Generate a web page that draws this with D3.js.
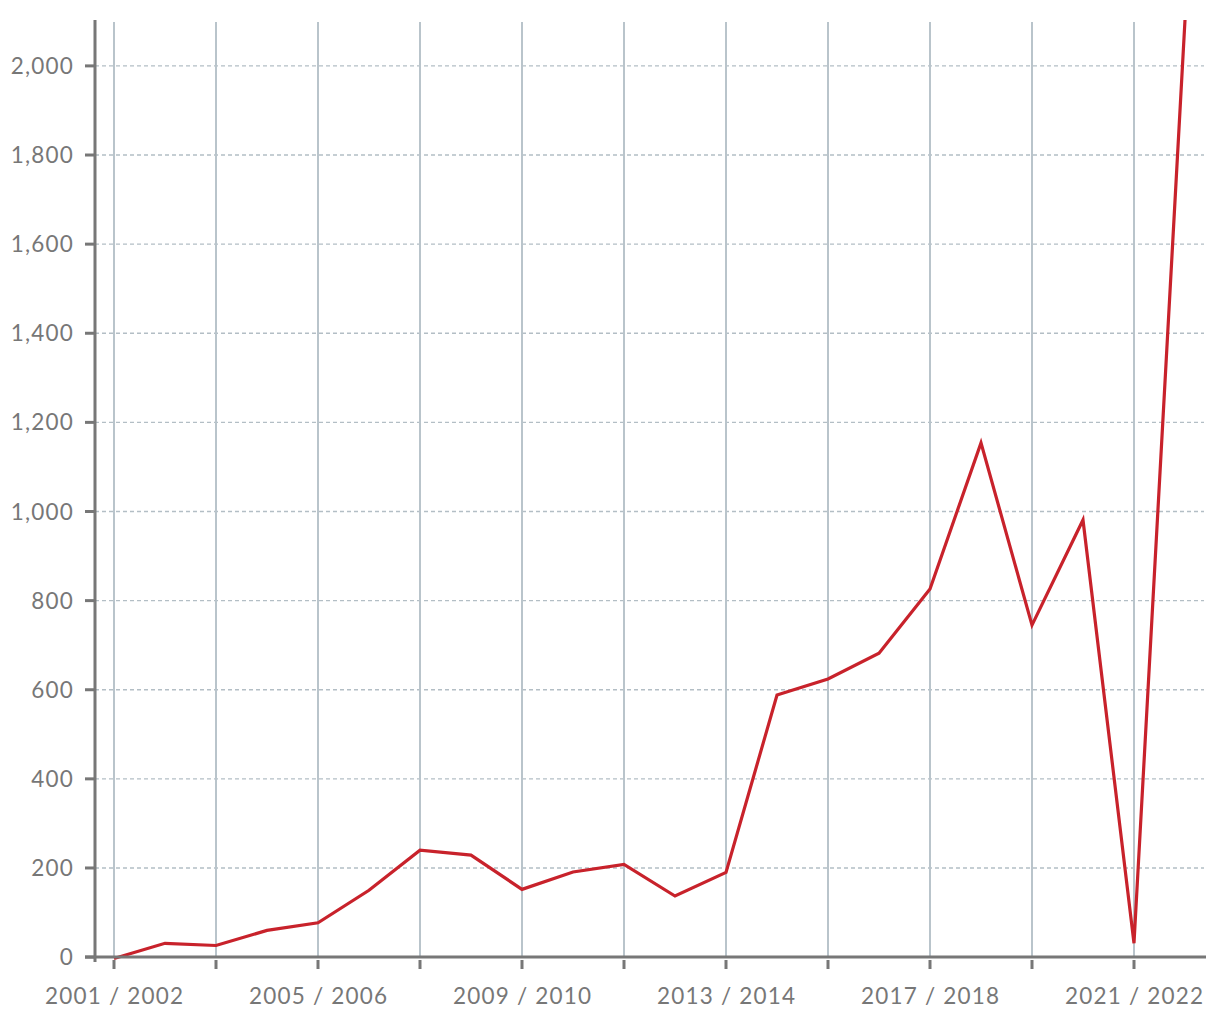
<!DOCTYPE html>
<html><head><meta charset="utf-8">
<script src="https://cdn.jsdelivr.net/npm/d3@7"></script>
<style>body{margin:0;background:#fff}svg{display:block}text{font-family:Lato,"Open Sans",sans-serif;fill:#777}</style>
</head><body>
<svg id="c" width="1220" height="1020"></svg>
<script>
const categories = ["2001 / 2002","2002 / 2003","2003 / 2004","2004 / 2005","2005 / 2006","2006 / 2007","2007 / 2008","2008 / 2009","2009 / 2010","2010 / 2011","2011 / 2012","2012 / 2013","2013 / 2014","2014 / 2015","2015 / 2016","2016 / 2017","2017 / 2018","2018 / 2019","2019 / 2020","2020 / 2021","2021 / 2022","2022 / 2023"];
const values = [-3, 31, 26, 60, 77, 150, 240, 229, 152, 191, 208, 137, 190, 588, 624, 682, 826, 1154, 745, 981, 31, 2103];
const yTicks = [0,200,400,600,800,1000,1200,1400,1600,1800,2000];

const svg = d3.select("#c");
const x = d3.scalePoint().domain(categories).range([114,1185]);
const y = d3.scaleLinear().domain([-11, 2103]).range([962, 20]);
const axisColor = "#777";
const fmt = d3.format(",");

// horizontal dashed gridlines
svg.append("g").selectAll("line").data(yTicks.filter(d=>d>0)).join("line")
  .attr("x1",95).attr("x2",1204).attr("y1",d=>y(d)).attr("y2",d=>y(d))
  .attr("stroke","#b3bec5").attr("stroke-width",1.3).attr("stroke-dasharray","4,3");

// vertical gridlines
const gridCats = categories.filter((d,i)=>i%2===0);
svg.append("g").selectAll("line").data(gridCats).join("line")
  .attr("x1",d=>x(d)).attr("x2",d=>x(d)).attr("y1",22).attr("y2",y(0))
  .attr("stroke","#b9c4cb").attr("stroke-width",2);

// line
svg.append("defs").append("clipPath").attr("id","clip").append("rect")
  .attr("x",95).attr("y",20).attr("width",1120).attr("height",960);
svg.append("path").datum(values)
  .attr("clip-path","url(#clip)")
  .attr("fill","none").attr("stroke","#c8222b").attr("stroke-width",3.2)
  .attr("stroke-linejoin","miter")
  .attr("d", d3.line().x((d,i)=>x(categories[i])).y(d=>y(d)));

// x axis line
svg.append("line").attr("x1",85).attr("x2",1206).attr("y1",y(0)).attr("y2",y(0))
  .attr("stroke",axisColor).attr("stroke-width",3);
// x ticks
svg.append("g").selectAll("line").data(gridCats).join("line")
  .attr("x1",d=>x(d)).attr("x2",d=>x(d)).attr("y1",960).attr("y2",969)
  .attr("stroke",axisColor).attr("stroke-width",3);
// x labels
svg.append("g").selectAll("text").data(categories.filter((d,i)=>i%4===0)).join("text")
  .attr("x",d=>x(d)+0.6).attr("y",1004).attr("text-anchor","middle")
  .attr("font-size",22.5).attr("letter-spacing",1.2).text(d=>d);

// y axis
svg.append("line").attr("x1",95).attr("x2",95).attr("y1",20).attr("y2",962)
  .attr("stroke",axisColor).attr("stroke-width",3);
svg.append("g").selectAll("line").data(yTicks).join("line")
  .attr("x1",85).attr("x2",95).attr("y1",d=>y(d)).attr("y2",d=>y(d))
  .attr("stroke",axisColor).attr("stroke-width",3);
svg.append("g").selectAll("text").data(yTicks).join("text")
  .attr("x",74).attr("y",d=>y(d)).attr("dy","0.36em").attr("text-anchor","end")
  .attr("font-size",22.5).attr("letter-spacing",1.2).text(d=>fmt(d));
</script>
</body></html>
